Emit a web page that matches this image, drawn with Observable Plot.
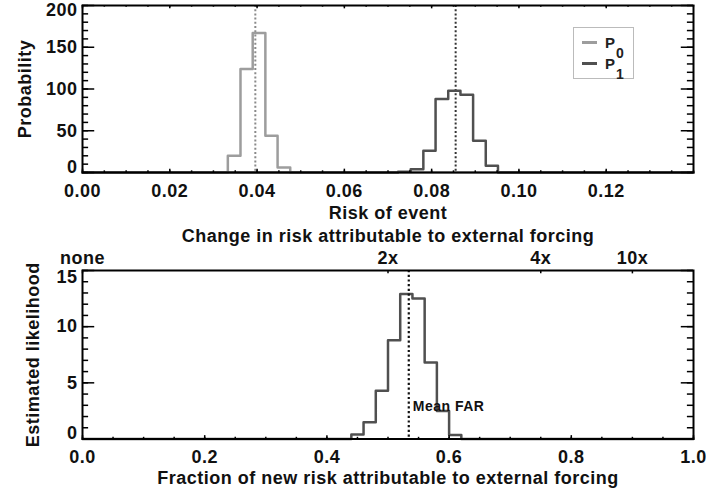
<!DOCTYPE html>
<html><head><meta charset="utf-8">
<script src="https://cdn.jsdelivr.net/npm/d3@7"></script>
<script src="https://cdn.jsdelivr.net/npm/@observablehq/plot@0.6"></script>
<style>
html,body{margin:0;padding:0;background:#fff;}
#wrap{position:relative;width:706px;height:493px;overflow:hidden;font-family:"Liberation Sans",Arial,sans-serif;}
#wrap svg{display:block;}
#wrap svg text{letter-spacing:0.5px;}
.legbox{position:absolute;border:1px solid #bbb;box-sizing:border-box;background:#fff;}
.legline{position:absolute;height:2.5px;}
.legtxt{position:absolute;font-weight:bold;color:#222;line-height:1;}
</style></head><body><div id="wrap"></div>
<script>
// ---- data ----
const p0Edges = [0.0333, 0.0362, 0.0390, 0.0419, 0.0447, 0.0476];
const p0Counts = [20, 124, 167, 44, 6];
const p1Edges = [0.0723, 0.0752, 0.0781, 0.0809, 0.0838, 0.0866, 0.0895, 0.0924, 0.0952];
const p1Counts = [1, 4, 26, 88, 98, 93, 38, 8];
const p0Mean = 0.0396;
const p1Mean = 0.0855;
const farEdges = [0.44, 0.46, 0.48, 0.50, 0.52, 0.54, 0.56, 0.58, 0.60, 0.62];
const farCounts = [0.4, 1.5, 4.3, 8.8, 12.9, 12.5, 6.8, 2.5, 0.35];
const meanFAR = 0.534;
const riskTicks = [0, 0.02, 0.04, 0.06, 0.08, 0.10, 0.12];
const probTicks = [0, 50, 100, 150, 200];
const farTicks = [0, 0.2, 0.4, 0.6, 0.8, 1.0];
const likeTicks = [0, 5, 10, 15];
const changeTicks = [0, 0.5, 0.75, 0.9];
const changeLabels = ["none", "2x", "4x", "10x"];
const legendNames = ["P", "P"];
const legendSubs = ["0", "1"];
const colP0 = "#9d9d9d", colP1 = "#505050";

function stepData(edges, counts, lo, hi) {
  const pts = [{x: lo, y: 0}];
  counts.forEach((c, i) => pts.push({x: edges[i], y: c}));
  pts.push({x: edges[edges.length - 1], y: 0});
  pts.push({x: hi, y: 0});
  return pts;
}

const ML = 82, MR = 13, W = 706;
const FW = W - ML - MR;
const font = {fontFamily: "'Liberation Sans', Arial, sans-serif", fontSize: "18px", fontWeight: "bold", color: "#111", background: "transparent", overflow: "visible"};
const title = {lineAnchor: "middle", textAnchor: "middle"};

function tickMarks(FH, xMaj, xMin, yMaj, yMin, xTopMaj, xTopMin) {
  const xl = 0.02 * (FH), yl = 0.02 * FW;
  const s = {stroke: "#000", strokeWidth: 1.5};
  return [
    Plot.tickX(xMaj, {x: d => d, insetTop: FH - xl, ...s}),
    Plot.tickX(xMin, {x: d => d, insetTop: FH - xl / 2, ...s}),
    Plot.tickX(xTopMaj, {x: d => d, insetBottom: FH - xl, ...s}),
    Plot.tickX(xTopMin, {x: d => d, insetBottom: FH - xl / 2, ...s}),
    Plot.tickY(yMaj, {y: d => d, insetRight: FW - yl, ...s}),
    Plot.tickY(yMin, {y: d => d, insetRight: FW - yl / 2, ...s}),
    Plot.tickY(yMaj, {y: d => d, insetLeft: FW - yl, ...s}),
    Plot.tickY(yMin, {y: d => d, insetLeft: FW - yl / 2, ...s})
  ];
}

// ---- top panel ----
const H1 = 226, MT1 = 5, MB1 = 54;
const FH1 = H1 - MT1 - MB1;
const riskMinor = d3.range(0, 0.1401, 0.005);
const probMinor = d3.range(0, 201, 10);
const topChart = Plot.plot({
  width: W, height: H1,
  marginLeft: ML, marginRight: MR, marginTop: MT1, marginBottom: MB1,
  x: {domain: [0, 0.14], label: null},
  y: {domain: [0, 200], label: null},
  style: font,
  marks: [
    Plot.ruleX([p0Mean], {x: d => d, stroke: "#8a8a8a", strokeWidth: 2, strokeDasharray: "2,2.2"}),
    Plot.ruleX([p1Mean], {x: d => d, stroke: "#333", strokeWidth: 2, strokeDasharray: "2,2.2"}),
    Plot.line(stepData(p0Edges, p0Counts, 0, 0.14), {x: "x", y: "y", curve: "step-after", stroke: colP0, strokeWidth: 2.5}),
    Plot.line(stepData(p1Edges, p1Counts, 0, 0.14), {x: "x", y: "y", curve: "step-after", stroke: colP1, strokeWidth: 2.5}),
    ...tickMarks(FH1, riskTicks, riskMinor, probTicks, probMinor, riskTicks, riskMinor),
    Plot.frame({stroke: "#000", strokeWidth: 2}),
    Plot.axisX(riskTicks, {tickSize: 0, tickPadding: 12, tickFormat: d3.format(".2f"), label: null}),
    Plot.axisY(probTicks.filter(d => d > 0 && d < 200), {tickSize: 0, tickPadding: 5, label: null}),
    Plot.axisY([200], {tickSize: 0, tickPadding: 5, label: null, dy: 4.5}),
    Plot.axisY([0], {tickSize: 0, tickPadding: 5, label: null, dy: -5}),
    Plot.text(["Risk of event"], {text: d => d, frameAnchor: "bottom", dy: 40.5, ...title}),
    Plot.text(["Probability"], {text: d => d, frameAnchor: "left", dx: -57, rotate: -90, ...title})
  ]
});

// ---- bottom panel ----
const H2 = 267, MT2 = 44, MB2 = 54.5;
const FH2 = H2 - MT2 - MB2;
const farMinor = d3.range(0, 1.0001, 0.05);
const likeMinor = d3.range(0, 15.01, 1);
const bottomChart = Plot.plot({
  width: W, height: H2,
  marginLeft: ML, marginRight: MR, marginTop: MT2, marginBottom: MB2,
  x: {domain: [0, 1], label: null},
  y: {domain: [0, 15], label: null},
  style: font,
  marks: [
    Plot.line(stepData(farEdges, farCounts, 0, 1), {x: "x", y: "y", curve: "step-after", stroke: colP1, strokeWidth: 2.5}),
    Plot.ruleX([meanFAR], {x: d => d, stroke: "#111", strokeWidth: 2.2, strokeDasharray: "2.2,2.5"}),
    ...tickMarks(FH2, farTicks, farMinor, likeTicks, likeMinor, changeTicks, []),
    Plot.frame({stroke: "#000", strokeWidth: 2}),
    Plot.axisX(farTicks, {tickSize: 0, tickPadding: 11, tickFormat: d3.format(".1f"), label: null}),
    Plot.axisX(changeTicks, {anchor: "top", tickSize: 0, tickPadding: 6.5, tickFormat: (d, i) => changeLabels[i], label: null}),
    Plot.axisY(likeTicks.filter(d => d > 0 && d < 15), {tickSize: 0, tickPadding: 5, label: null}),
    Plot.axisY([15], {tickSize: 0, tickPadding: 5, label: null, dy: 6.5}),
    Plot.axisY([0], {tickSize: 0, tickPadding: 5, label: null, dy: -6}),
    Plot.text([meanFAR], {x: d => d, text: () => "Mean FAR", frameAnchor: "bottom", dy: -32.5, dx: 4, textAnchor: "start", lineAnchor: "middle", fontSize: 14}),
    Plot.text(["Change in risk attributable to external forcing"], {text: d => d, frameAnchor: "top", dy: -34, ...title}),
    Plot.text(["Fraction of new risk attributable to external forcing"], {text: d => d, frameAnchor: "bottom", dy: 39, ...title}),
    Plot.text(["Estimated likelihood"], {text: d => d, frameAnchor: "left", dx: -49, rotate: -90, ...title})
  ]
});

const wrap = document.getElementById("wrap");
wrap.appendChild(topChart);
wrap.appendChild(bottomChart);

// ---- legend (overlay in the top panel) ----
const box = document.createElement("div");
box.className = "legbox";
Object.assign(box.style, {left: "573px", top: "27px", width: "61px", height: "52px"});
wrap.appendChild(box);
[colP0, colP1].forEach((c, i) => {
  const yc = 42.7 + i * 20.8;
  const ln = document.createElement("div");
  ln.className = "legline";
  Object.assign(ln.style, {left: "582px", top: (yc - 1.25) + "px", width: "15px", background: c});
  wrap.appendChild(ln);
  const p = document.createElement("div");
  p.className = "legtxt";
  p.textContent = legendNames[i];
  Object.assign(p.style, {left: "605px", top: (yc - 7.5) + "px", fontSize: "15px"});
  wrap.appendChild(p);
  const s = document.createElement("div");
  s.className = "legtxt";
  s.textContent = legendSubs[i];
  Object.assign(s.style, {left: "616px", top: (yc + 10.6 - 7) + "px", fontSize: "14px"});
  wrap.appendChild(s);
});
</script></body></html>
